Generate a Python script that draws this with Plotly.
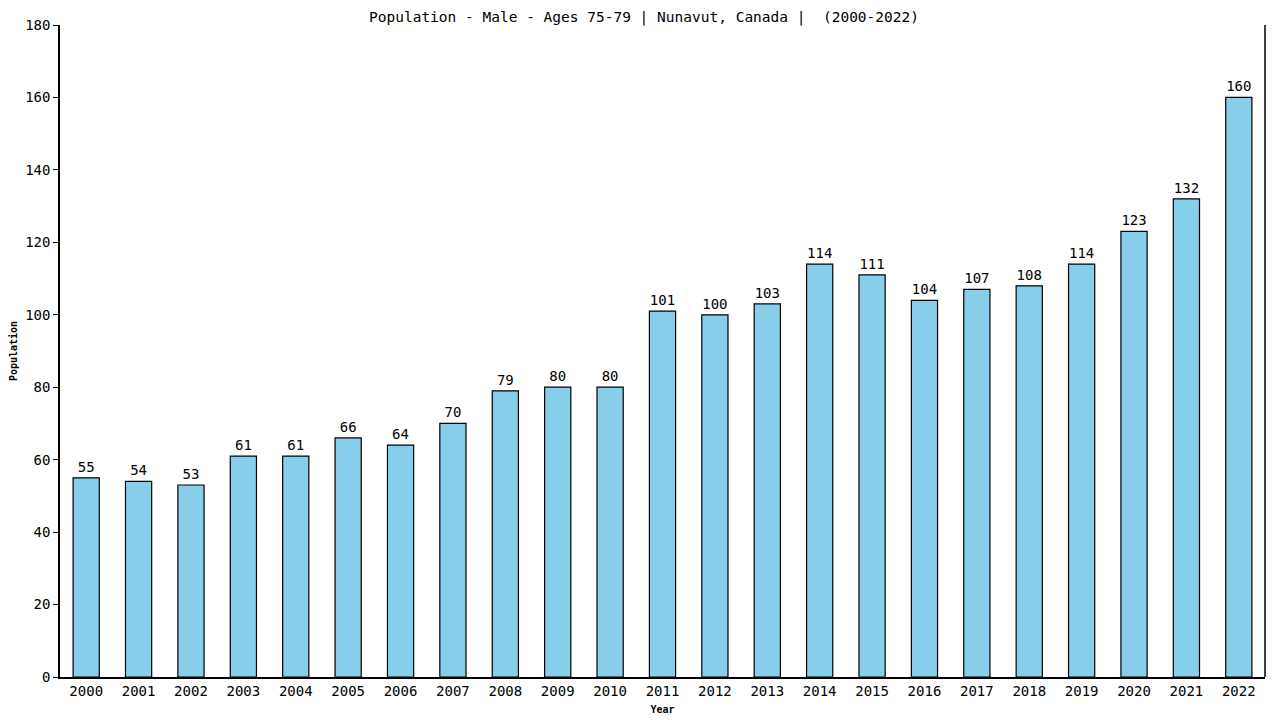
import plotly.graph_objects as go

years = [str(y) for y in range(2000, 2023)]
population = [55, 54, 53, 61, 61, 66, 64, 70, 79, 80, 80, 101, 100, 103,
              114, 111, 104, 107, 108, 114, 123, 132, 160]

title = "Population - Male - Ages 75-79 | Nunavut, Canada |  (2000-2022)"
mono = "DejaVu Sans Mono"

# the page body keeps its 8px default margin, so the figure is sized to fit
fig = go.Figure(
    go.Bar(
        x=years,
        y=population,
        width=0.5,
        marker=dict(color="#87CEEB", line=dict(color="black", width=1.2)),
        text=population,
        textposition="outside",
        textfont=dict(family=mono, size=14, color="black"),
        cliponaxis=False,
    )
)

fig.update_layout(
    width=1272,
    height=712,
    margin=dict(l=52, r=15, t=17, b=43),
    paper_bgcolor="white",
    plot_bgcolor="white",
    showlegend=False,
    font=dict(family=mono, color="black"),
    title=dict(text=title, x=0.5, xanchor="center", y=0.995, yanchor="top",
               font=dict(family=mono, size=14.5)),
    bargap=0.5,
)

fig.update_xaxes(
    automargin=False,
    showline=True, linecolor="black", linewidth=1.5, mirror=False,
    ticks="", tickfont=dict(family=mono, size=14),
    title=dict(text="<b>Year</b>", font=dict(family=mono, size=10), standoff=8),
    showgrid=False,
)
fig.update_yaxes(
    automargin=False,
    range=[0, 180], dtick=20, showline=True, linecolor="black", linewidth=1.5,
    ticks="outside", ticklen=5, tickcolor="black",
    tickfont=dict(family=mono, size=14),
    title=dict(text="<b>Population</b>", font=dict(family=mono, size=10), standoff=8),
    showgrid=False, zeroline=False,
)

# right-hand border line
fig.add_shape(type="line", xref="paper", yref="paper", x0=1, x1=1, y0=0, y1=1,
              line=dict(color="black", width=1.5))

fig.write_html("out.html")
